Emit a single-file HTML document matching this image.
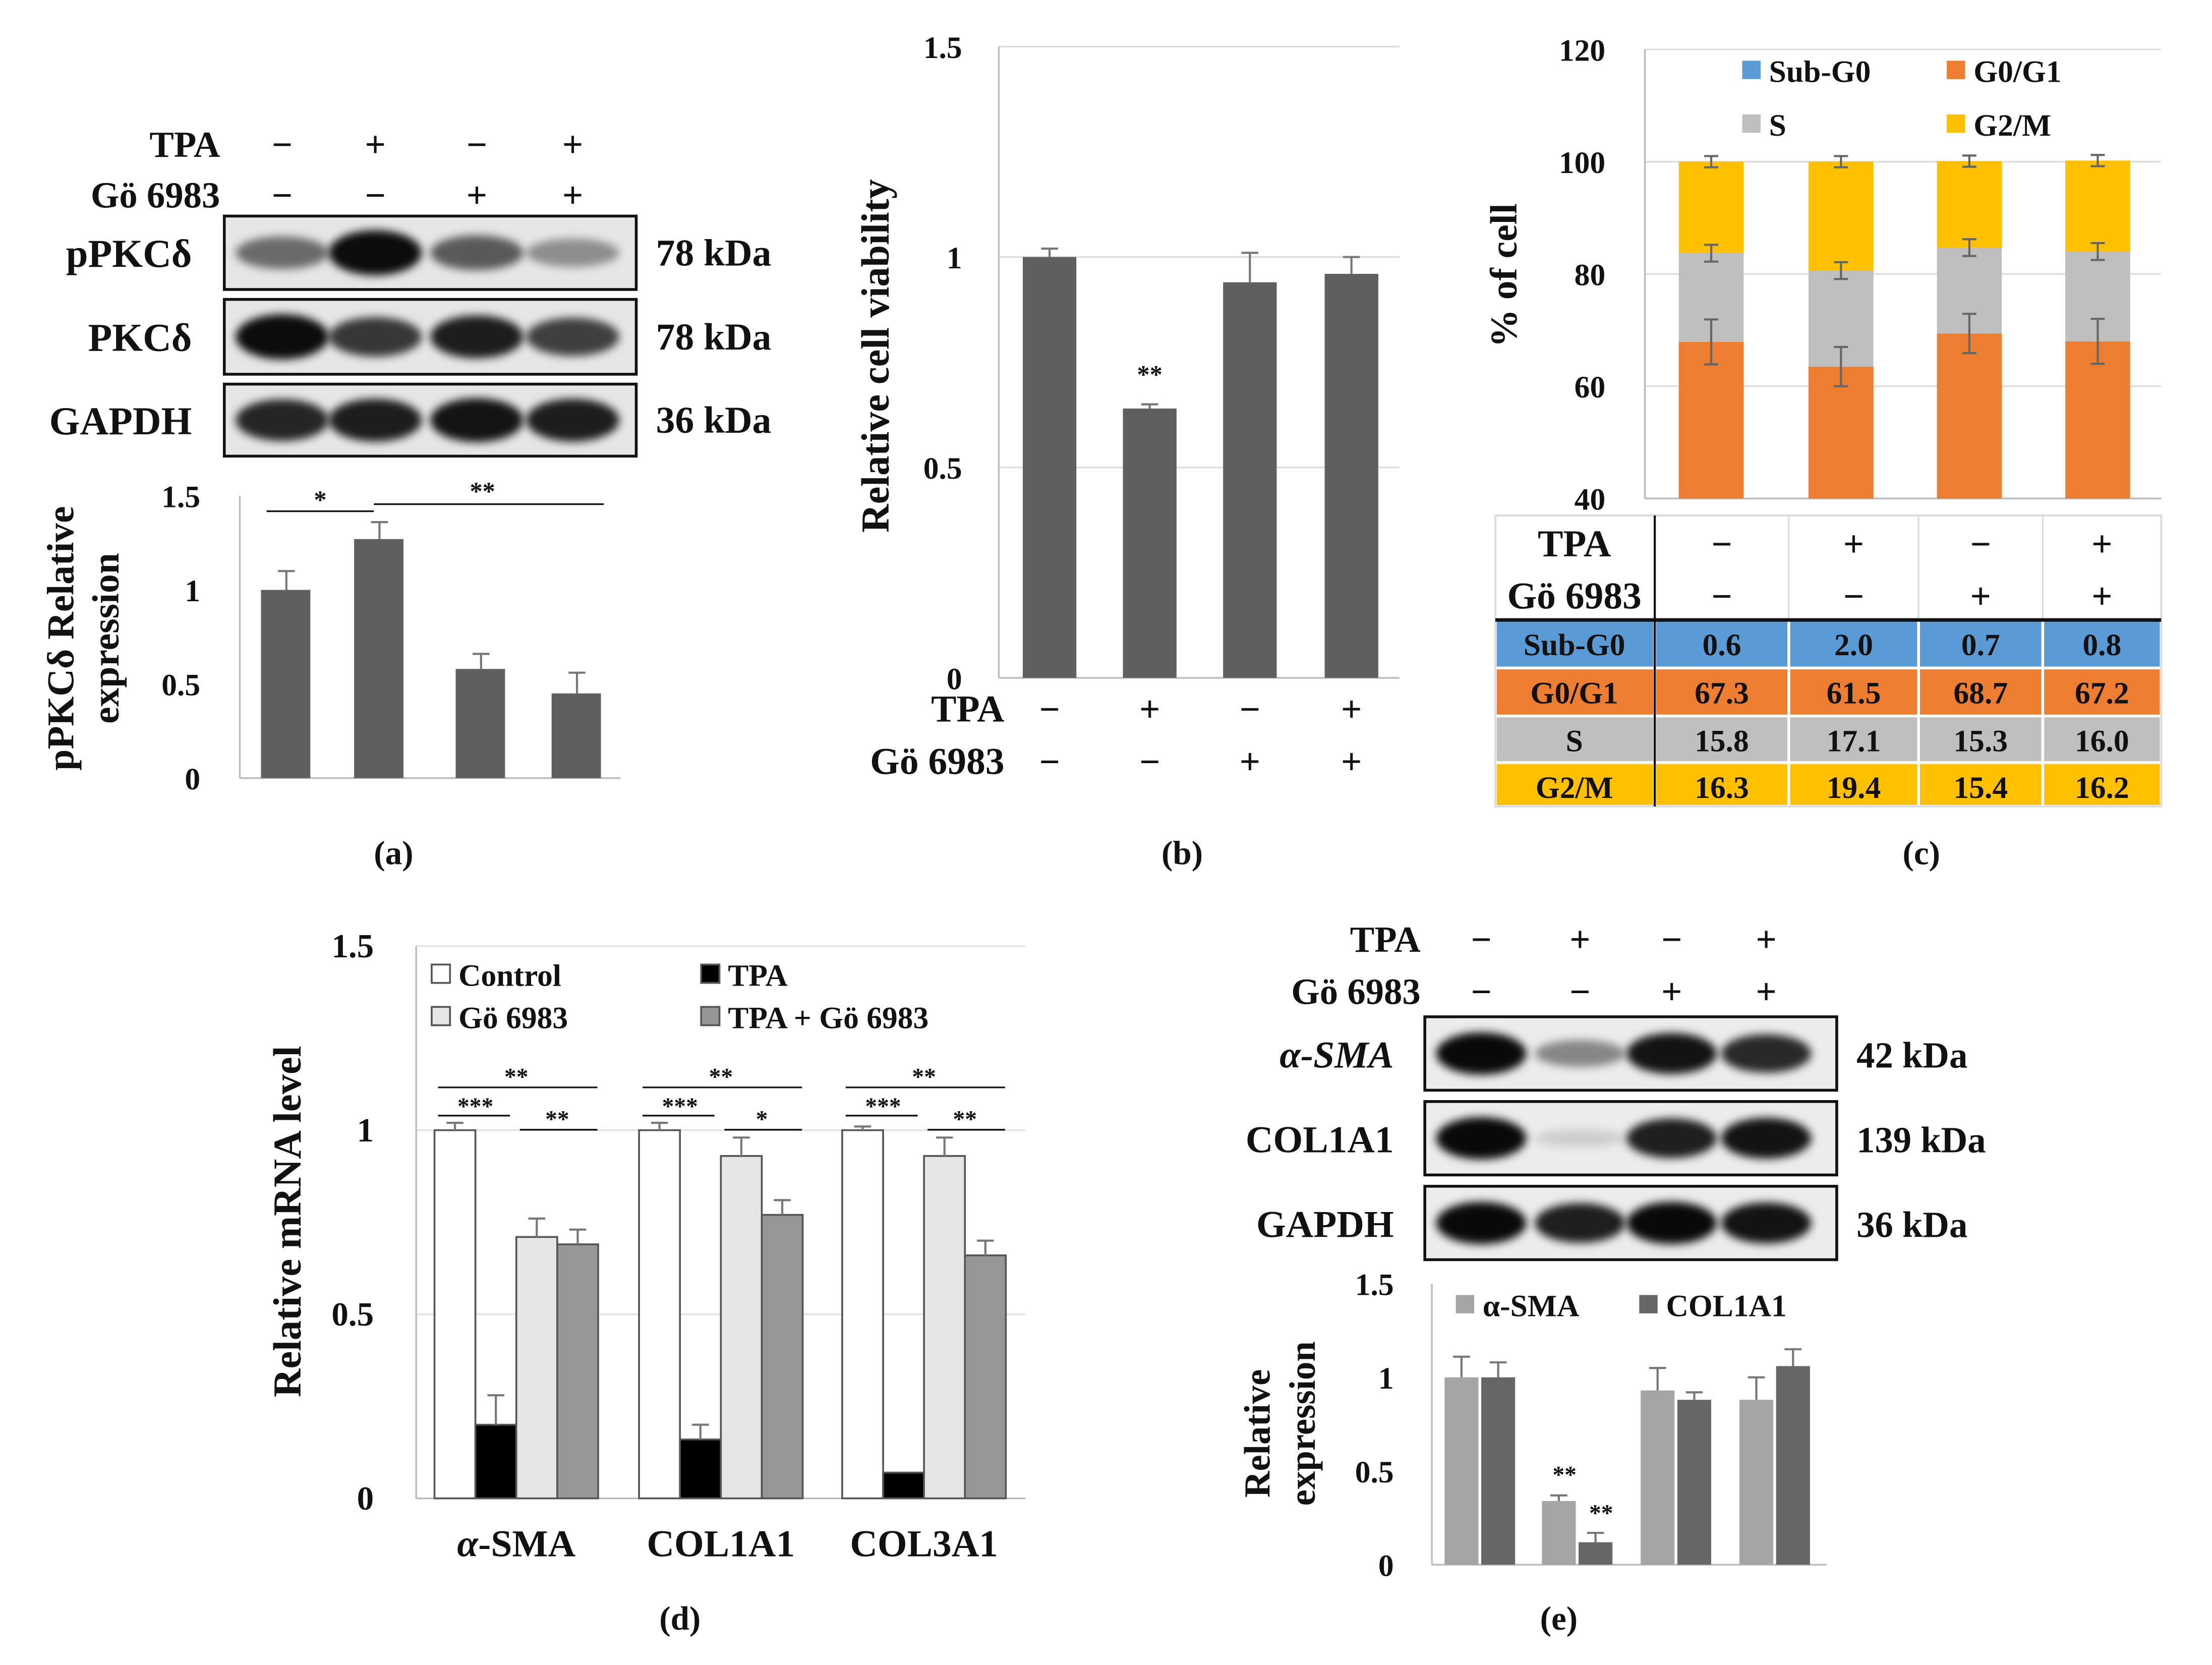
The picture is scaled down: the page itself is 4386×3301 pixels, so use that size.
<!DOCTYPE html>
<html><head><meta charset="utf-8">
<style>
html,body{margin:0;padding:0;background:#fff}
svg{display:block}
text{font-family:"Liberation Serif",serif;font-weight:bold;fill:#111}
</style></head>
<body>
<svg id="fig" width="4386" height="3301" viewBox="0 0 1568 1179" preserveAspectRatio="none" xmlns="http://www.w3.org/2000/svg">
<defs><filter id="blur" x="-20%" y="-50%" width="140%" height="200%"><feGaussianBlur stdDeviation="3"/></filter></defs>
<g id="root"></g>
</svg>
<script>
// ---------- data ----------
const signsTPA = ['−','+','−','+'];
const signsGo = ['−','−','+','+'];
const aValues = [1.0, 1.27, 0.58, 0.45];
const aErrors = [0.10, 0.09, 0.08, 0.11];
const aBands = [[0.45,1.0,0.55,0.25],[1,0.75,0.9,0.7],[0.85,0.9,0.95,0.9]];
const bValues = [1.0, 0.64, 0.94, 0.96];
const bErrors = [0.02, 0.01, 0.07, 0.04];
const cPhases = ['Sub-G0','G0/G1','S','G2/M'];
const cSubG0 = [0.6, 2.0, 0.7, 0.8];
const cG0G1 = [67.3, 61.5, 68.7, 67.2];
const cS = [15.8, 17.1, 15.3, 16.0];
const cG2M = [16.3, 19.4, 15.4, 16.2];
const cErrG1 = [4, 3.5, 3.5, 4];
const cErrS = [1.5, 1.5, 1.5, 1.5];
const cErrG2 = [1, 1, 1, 1];
const dCategories = ['α-SMA','COL1A1','COL3A1'];
const dControl = [1.0, 1.0, 1.0];
const dTPA = [0.20, 0.16, 0.07];
const dGo = [0.71, 0.93, 0.93];
const dBoth = [0.69, 0.77, 0.66];
const dErrControl = [0.02, 0.02, 0.01];
const dErrTPA = [0.08, 0.04, 0.0];
const dErrGo = [0.05, 0.05, 0.05];
const dErrBoth = [0.04, 0.04, 0.04];
const eSMA = [1.0, 0.34, 0.93, 0.88];
const eCOL = [1.0, 0.12, 0.88, 1.06];
const eErrSMA = [0.11, 0.03, 0.12, 0.12];
const eErrCOL = [0.08, 0.05, 0.04, 0.09];
const eBands = [[1,0.4,0.95,0.85],[1,0.05,0.9,0.95],[1,0.9,1,0.95]];

const NS='http://www.w3.org/2000/svg';
const root=document.getElementById('root');
function el(tag,attrs,parent,txt){const e=document.createElementNS(NS,tag);for(const k in attrs)e.setAttribute(k,attrs[k]);if(txt!==undefined)e.textContent=txt;(parent||root).appendChild(e);return e;}
function line(x1,y1,x2,y2,c,w,p){return el('line',{x1,y1,x2,y2,stroke:c||'#777','stroke-width':w||1.2},p);}
function txt(x,y,s,size,anchor,p,extra){const a={x,y,'font-size':size,'text-anchor':anchor||'middle'};Object.assign(a,extra||{});return el('text',a,p,s);}
function errbar(x,yTop,yErr,p){line(x,yTop,x,yErr,'#777',1.5,p);line(x-6,yErr,x+6,yErr,'#777',1.5,p);}

// ---------- panel a ----------
const ga=el('g',{});
const aCols=[200,266,338,406];
txt(156,111,'TPA',26,'end',ga);txt(156,147,'Gö 6983',26,'end',ga);
aCols.forEach((x,i)=>{txt(x,111,signsTPA[i],26,'middle',ga);txt(x,147,signsGo[i],26,'middle',ga);});
const aBlotY=[153,212,272], aBlotH=[52,53,51], aNames=['pPKCδ','PKCδ','GAPDH'], aKda=['78 kDa','78 kDa','36 kDa'];
aBlotY.forEach((y,r)=>{
  const g=el('g',{},ga);
  el('rect',{x:159,y,width:292,height:aBlotH[r],fill:'#e6e6e6',stroke:'#111','stroke-width':2},g);
  aCols.forEach((x,i)=>{const v=aBands[r][i];el('ellipse',{cx:x,cy:y+aBlotH[r]/2,rx:33,ry:8+8*v,fill:'#000','fill-opacity':0.2+0.75*v,filter:'url(#blur)'},g);});
  txt(136,y+aBlotH[r]/2+10,aNames[r],28,'end',ga);txt(465,y+aBlotH[r]/2+9,aKda[r],27,'start',ga);
});
const aY=v=>551-v*133.3;
[0,0.5,1,1.5].forEach(v=>{txt(142,aY(v)+8,String(v),22,'end',ga);});
line(170,351,170,551,'#bbb',1.2,ga);line(170,551,440,551,'#bbb',1.2,ga);
aValues.forEach((v,i)=>{const b=el('rect',{x:aCols[i]+3-18,y:aY(v),width:35,height:aY(0)-aY(v),fill:'#5f5f5f'},ga);errbar(aCols[i]+3,aY(v),aY(v+aErrors[i]),ga);});
line(189,362,265,362,'#111',1.2,ga);txt(227,360,'*',18,'middle',ga);
line(265,357,428,357,'#111',1.2,ga);txt(342,354,'**',18,'middle',ga);
txt(52,452,'pPKCδ Relative',27,'middle',ga,{transform:'rotate(-90 52 452)'});
txt(84,452,'expression',27,'middle',ga,{transform:'rotate(-90 84 452)'});
txt(279,612,'(a)',24,'middle',ga);

// ---------- panel b ----------
const gb=el('g',{});
const bY=v=>480-v*298;
const bCols=[744,815,886,958];
[0,0.5,1,1.5].forEach(v=>{if(v>0)line(708,bY(v),992,bY(v),'#ddd',1.2,gb);txt(682,bY(v)+8,String(v),22,'end',gb);});
line(708,33,708,480,'#bbb',1.2,gb);line(708,480,992,480,'#bbb',1.2,gb);
bValues.forEach((v,i)=>{const b=el('rect',{x:bCols[i]-19,y:bY(v),width:38,height:bY(0)-bY(v),fill:'#5f5f5f'},gb);errbar(bCols[i],bY(v),bY(v+bErrors[i]),gb);});
txt(815,bY(bValues[1])-18,'**',18,'middle',gb);
txt(712,511,'TPA',27,'end',gb);txt(712,548,'Gö 6983',27,'end',gb);
bCols.forEach((x,i)=>{txt(x,511,signsTPA[i],26,'middle',gb);txt(x,548,signsGo[i],26,'middle',gb);});
txt(630,252,'Relative cell viability',28,'middle',gb,{transform:'rotate(-90 630 252)'});
txt(838,612,'(b)',24,'middle',gb);

// ---------- panel c ----------
const gc=el('g',{});
const cY=v=>353-(v-40)*3.975;
const cCols=[1213,1305,1396,1487];
[40,60,80,100,120].forEach(v=>{if(v>40)line(1166,cY(v),1532,cY(v),'#ddd',1.2,gc);txt(1138,cY(v)+8,String(v),22,'end',gc);});
line(1166,35,1166,353,'#bbb',1.2,gc);line(1166,353,1532,353,'#bbb',1.2,gc);
const cColors=['#5b9bd5','#ed7d31','#bfbfbf','#ffc000'];
cCols.forEach((x,i)=>{
  const segs=[cSubG0[i],cG0G1[i],cS[i],cG2M[i]];let base=0;const tops=[];
  segs.forEach((s,k)=>{const lo=Math.max(base,40),hi=base+s;if(hi>40){const r=el('rect',{x:x-23,y:cY(hi),width:46,height:cY(lo)-cY(hi),fill:cColors[k]},gc);}base=hi;tops.push(hi);});
  const t1=tops[1],t2=tops[2],t3=tops[3];
  [[t1,cErrG1[i]],[t2,cErrS[i]],[t3,cErrG2[i]]].forEach(([t,e])=>{line(x,cY(t-e),x,cY(t+e),'#666',1.5,gc);line(x-5,cY(t-e),x+5,cY(t-e),'#666',1.5,gc);line(x-5,cY(t+e),x+5,cY(t+e),'#666',1.5,gc);});
});
const cLeg=[[1235,50,0],[1380,50,1],[1235,88,2],[1380,88,3]];
cLeg.forEach(([x,y,k])=>{const g=el('g',{},gc);el('rect',{x,y:y-7,width:13,height:13,fill:cColors[k]},g);txt(x+19,y+8,cPhases[k],22,'start',g);});
txt(1075,195,'% of cell',27,'middle',gc,{transform:'rotate(-90 1075 195)'});
// table
const tb=el('g',{},gc);
const colX=[1060,1173,1268,1360,1448,1532];
const rowY=[365,403,439,473,507,540,571];
el('rect',{x:1060,y:365,width:472,height:206,fill:'#fff',stroke:'#ddd','stroke-width':1.5},tb);
const rowVals=[cSubG0,cG0G1,cS,cG2M];
for(let r=0;r<4;r++){for(let c=0;c<5;c++){el('rect',{x:colX[c]+1,y:rowY[r+2]+1,width:colX[c+1]-colX[c]-2,height:rowY[r+3]-rowY[r+2]-2,fill:cColors[r]},tb);}
  txt(1116,rowY[r+2]+25,cPhases[r],22,'middle',tb);
  rowVals[r].forEach((v,i)=>txt((colX[i+1]+colX[i+2])/2,rowY[r+2]+25,v.toFixed(1),22,'middle',tb));}
for(let c=2;c<5;c++)line(colX[c],365,colX[c],439,'#ddd',1.2,tb);
line(1173,365,1173,571,'#111',1.5,tb);line(1060,439,1532,439,'#111',2.5,tb);
txt(1116,394,'TPA',27,'middle',tb);txt(1116,431,'Gö 6983',27,'middle',tb);
for(let i=0;i<4;i++){const cx=(colX[i+1]+colX[i+2])/2;txt(cx,394,signsTPA[i],26,'middle',tb);txt(cx,431,signsGo[i],26,'middle',tb);}
txt(1362,612,'(c)',24,'middle',gc);

// ---------- panel d ----------
const gd=el('g',{});
const dY=v=>1061-v*260.7;
[0,0.5,1,1.5].forEach(v=>{if(v>0)line(295,dY(v),727,dY(v),'#e3e3e3',1.2,gd);txt(265,dY(v)+8,String(v),24,'end',gd);});
line(295,670,295,1061,'#bbb',1.2,gd);line(295,1061,727,1061,'#bbb',1.2,gd);
const dSeries=[dControl,dTPA,dGo,dBoth], dErrs=[dErrControl,dErrTPA,dErrGo,dErrBoth];
const dFill=['#fff','#000','#e6e6e6','#969696'], dNames=['Control','TPA','Gö 6983','TPA + Gö 6983'];
const dGroupX=[366,511,655];
dCategories.forEach((cat,g)=>{
  dSeries.forEach((s,k)=>{const x=dGroupX[g]+(k-1.5)*29;const r=el('rect',{x:x-14.5,y:dY(s[g]),width:29,height:dY(0)-dY(s[g]),fill:dFill[k],stroke:'#555','stroke-width':1.3},gd);if(dErrs[k][g]>0)errbar(x,dY(s[g]),dY(s[g]+dErrs[k][g]),gd);});
  const t=txt(dGroupX[g],1102,'',27,'middle',gd);
  if(cat.startsWith('α')){el('tspan',{'font-style':'italic'},t,'α');el('tspan',{},t,cat.slice(1));}else{t.textContent=cat;}
  const x0=dGroupX[g]-43.5,x1=dGroupX[g]-14.5,x2=dGroupX[g]+14.5,x3=dGroupX[g]+43.5;
  line(x0-12,770,x3+14,770,'#111',1.2,gd);txt((x0+x3)/2,768,'**',17,'middle',gd);
  line(x0-12,790,x1+10,790,'#111',1.2,gd);txt((x0+x1)/2,789,'***',17,'middle',gd);
  line(x2-12,800,x3+14,800,'#111',1.2,gd);txt((x2+x3)/2,798,g===1?'*':'**',17,'middle',gd);
});
const dLeg=[[306,690,0],[497,690,1],[306,720,2],[497,720,3]];
dLeg.forEach(([x,y,k])=>{const g=el('g',{},gd);el('rect',{x,y:y-7,width:13,height:13,fill:dFill[k],stroke:'#555','stroke-width':1.3},g);txt(x+19,y+8,dNames[k],22,'start',g);});
txt(213,865,'Relative mRNA level',28,'middle',gd,{transform:'rotate(-90 213 865)'});
txt(482,1154,'(d)',24,'middle',gd);

// ---------- panel e ----------
const ge=el('g',{});
const eCols=[1050,1120,1185,1252];
txt(1007,674,'TPA',26,'end',ge);txt(1007,711,'Gö 6983',26,'end',ge);
eCols.forEach((x,i)=>{txt(x,674,signsTPA[i],26,'middle',ge);txt(x,711,signsGo[i],26,'middle',ge);});
const eBlotY=[720,780,840],eNames=['α-SMA','COL1A1','GAPDH'],eKda=['42 kDa','139 kDa','36 kDa'];
eBlotY.forEach((y,r)=>{
  const g=el('g',{},ge);
  el('rect',{x:1010,y,width:292,height:52,fill:'#ececec',stroke:'#111','stroke-width':2},g);
  eCols.forEach((x,i)=>{const v=eBands[r][i];el('ellipse',{cx:x,cy:y+26,rx:32,ry:6+9*v,fill:'#000','fill-opacity':0.08+0.88*v,filter:'url(#blur)'},g);});
  txt(988,y+36,eNames[r],27,'end',ge,r===0?{'font-style':'italic'}:{});txt(1316,y+36,eKda[r],26,'start',ge);
});
const eY=v=>1108-v*132.7;
[0,0.5,1,1.5].forEach(v=>{txt(988,eY(v)+8,String(v),22,'end',ge);});
line(1015,909,1015,1108,'#bbb',1.2,ge);line(1015,1108,1295,1108,'#bbb',1.2,ge);
const eCenters=[1049,1118,1188,1258];
eCenters.forEach((c,i)=>{
  const r1=el('rect',{x:c-25,y:eY(eSMA[i]),width:24,height:eY(0)-eY(eSMA[i]),fill:'#a5a5a5'},ge);
  const r2=el('rect',{x:c+1,y:eY(eCOL[i]),width:24,height:eY(0)-eY(eCOL[i]),fill:'#666'},ge);
  errbar(c-13,eY(eSMA[i]),eY(eSMA[i]+eErrSMA[i]),ge);errbar(c+13,eY(eCOL[i]),eY(eCOL[i]+eErrCOL[i]),ge);
});
txt(1109,eY(eSMA[1])-13,'**',17,'middle',ge);txt(1135,eY(eCOL[1])-15,'**',17,'middle',ge);
const le1=el('g',{},ge);
el('rect',{x:1032,y:917,width:13,height:13,fill:'#a5a5a5'},le1);txt(1051,932,'α-SMA',22,'start',le1);
const le2=el('g',{},ge);
el('rect',{x:1162,y:917,width:13,height:13,fill:'#666'},le2);txt(1181,932,'COL1A1',22,'start',le2);
txt(900,1015,'Relative',26,'middle',ge,{transform:'rotate(-90 900 1015)'});
txt(932,1008,'expression',26,'middle',ge,{transform:'rotate(-90 932 1008)'});
txt(1105,1154,'(e)',24,'middle',ge);
</script>
</body></html>
